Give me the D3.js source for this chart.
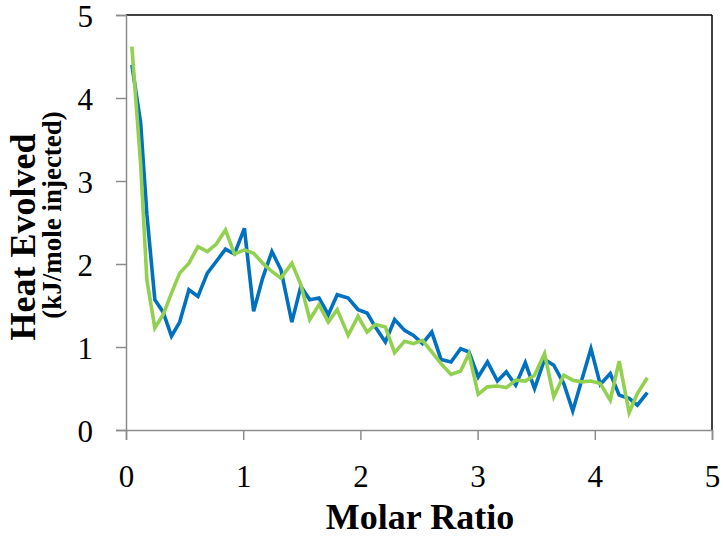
<!DOCTYPE html>
<html>
<head>
<meta charset="utf-8">
<script src="https://cdn.jsdelivr.net/npm/d3@7"></script>
<style>
    body { margin: 0; background: #fff; }
    #chart-area { width: 723px; height: 538px; }
    svg text { font-family: "Liberation Serif", "Times New Roman", serif; fill: #000; }
</style>
</head>
<body>
<div id="chart-area"></div>
<script>

// molar ratio at each injection
let molarRatio = [0.05, 0.125, 0.178, 0.246, 0.317, 0.388, 0.458, 0.537, 0.614, 0.694,
    0.770, 0.849, 0.925, 1.010, 1.089, 1.166, 1.245, 1.322, 1.415, 1.492,
    1.568, 1.647, 1.726, 1.802, 1.896, 1.980, 2.057, 2.128, 2.213, 2.292,
    2.377, 2.453, 2.530, 2.609, 2.688, 2.773, 2.855, 2.926, 3.005, 3.084,
    3.169, 3.245, 3.325, 3.407, 3.486, 3.571, 3.650, 3.735, 3.812, 3.888,
    3.967, 4.047, 4.132, 4.208, 4.293, 4.363, 4.448];

// heat evolved, blue run
let heatBlue = [4.40, 3.70, 2.60, 1.57, 1.42, 1.13, 1.30, 1.69, 1.61, 1.89,
    2.03, 2.18, 2.12, 2.43, 1.43, 1.83, 2.15, 1.93, 1.30, 1.73,
    1.57, 1.59, 1.39, 1.63, 1.59, 1.45, 1.41, 1.24, 1.06, 1.33,
    1.20, 1.14, 1.04, 1.18, 0.85, 0.82, 0.98, 0.94, 0.64, 0.82,
    0.59, 0.70, 0.54, 0.81, 0.50, 0.85, 0.78, 0.56, 0.23, 0.60,
    0.98, 0.55, 0.68, 0.42, 0.38, 0.30, 0.45];

// heat evolved, green run
let heatGreen = [4.62, 3.20, 1.81, 1.23, 1.39, 1.65, 1.89, 2.01, 2.21, 2.15,
    2.24, 2.41, 2.12, 2.17, 2.13, 2.01, 1.91, 1.83, 2.01, 1.75,
    1.33, 1.51, 1.30, 1.45, 1.14, 1.37, 1.18, 1.27, 1.24, 0.93,
    1.07, 1.04, 1.08, 0.94, 0.80, 0.67, 0.71, 0.92, 0.43, 0.52,
    0.53, 0.51, 0.60, 0.59, 0.66, 0.92, 0.40, 0.66, 0.60, 0.58,
    0.59, 0.56, 0.36, 0.83, 0.21, 0.44, 0.63];

let xTicks = [0, 1, 2, 3, 4, 5];
let yTicks = [0, 1, 2, 3, 4, 5];

let seriesColors = ["#0070C0", "#92D050"];

let serif = "Liberation Serif, Times New Roman, serif";

let vis = {};

vis.margin = {top: 15, right: 11, bottom: 108, left: 126};
vis.width = 723 - vis.margin.left - vis.margin.right;
vis.height = 538 - vis.margin.top - vis.margin.bottom;

vis.svg = d3.select("#chart-area")
    .append("svg")
    .attr("width", 723)
    .attr("height", 538)
    .append("g")
    .attr("transform", "translate(" + vis.margin.left + "," + vis.margin.top + ")");

vis.x = d3.scaleLinear()
    .domain([0, 5])
    .range([0, vis.width]);

vis.y = d3.scaleLinear()
    .domain([0, 5])
    .range([vis.height, 0]);

// black frame on top and right
vis.svg.append("line")
    .attr("x1", 0).attr("x2", vis.width)
    .attr("y1", 0).attr("y2", 0)
    .style("stroke", "#000").style("stroke-width", 1.5);
vis.svg.append("line")
    .attr("x1", vis.width).attr("x2", vis.width)
    .attr("y1", 0).attr("y2", vis.height)
    .style("stroke", "#000").style("stroke-width", 1.5);

vis.xAxis = d3.axisBottom(vis.x)
    .tickValues(xTicks)
    .tickSize(10)
    .tickPadding(25)
    .tickFormat(d3.format("d"));

vis.yAxis = d3.axisLeft(vis.y)
    .tickValues(yTicks)
    .tickSize(10)
    .tickPadding(23)
    .tickFormat(d3.format("d"));

let gx = vis.svg.append("g")
    .attr("class", "x-axis")
    .attr("transform", "translate(0," + vis.height + ")")
    .call(vis.xAxis);

let gy = vis.svg.append("g")
    .attr("class", "y-axis")
    .call(vis.yAxis);

[gx, gy].forEach(function(g) {
    g.attr("font-family", serif).attr("font-size", 31);
    g.select(".domain").style("stroke", "#8c8c8c").style("stroke-width", 1.5);
    g.selectAll(".tick line").style("stroke", "#8c8c8c").style("stroke-width", 1.5);
    g.selectAll(".tick text")
        .style("font-family", serif)
        .style("font-size", "31px")
        .style("fill", "#000");
});
gy.selectAll(".tick text").attr("dy", "0.38em");
gx.selectAll(".tick text").attr("dy", "0.71em");

// lines
let line = d3.line()
    .x(function(d) { return vis.x(d[0]); })
    .y(function(d) { return vis.y(d[1]); });

[heatBlue, heatGreen].forEach(function(series, i) {
    vis.svg.append("path")
        .datum(d3.zip(molarRatio, series))
        .attr("d", line)
        .style("fill", "none")
        .style("stroke", seriesColors[i])
        .style("stroke-width", 3.6)
        .style("stroke-linejoin", "miter");
});

// axis titles
vis.svg.append("text")
    .attr("transform", "translate(" + (35 - vis.margin.left) + "," + 222 + ") rotate(-90)")
    .attr("text-anchor", "middle")
    .style("font-size", "36px")
    .style("font-weight", "bold")
    .text("Heat Evolved");

vis.svg.append("text")
    .attr("transform", "translate(" + (61 - vis.margin.left) + "," + 200 + ") rotate(-90)")
    .attr("text-anchor", "middle")
    .style("font-size", "27px")
    .style("font-weight", "bold")
    .text("(kJ/mole injected)");

vis.svg.append("text")
    .attr("x", 420 - vis.margin.left)
    .attr("y", 529 - vis.margin.top)
    .attr("text-anchor", "middle")
    .style("font-size", "36px")
    .style("font-weight", "bold")
    .text("Molar Ratio");

</script>
</body>
</html>
